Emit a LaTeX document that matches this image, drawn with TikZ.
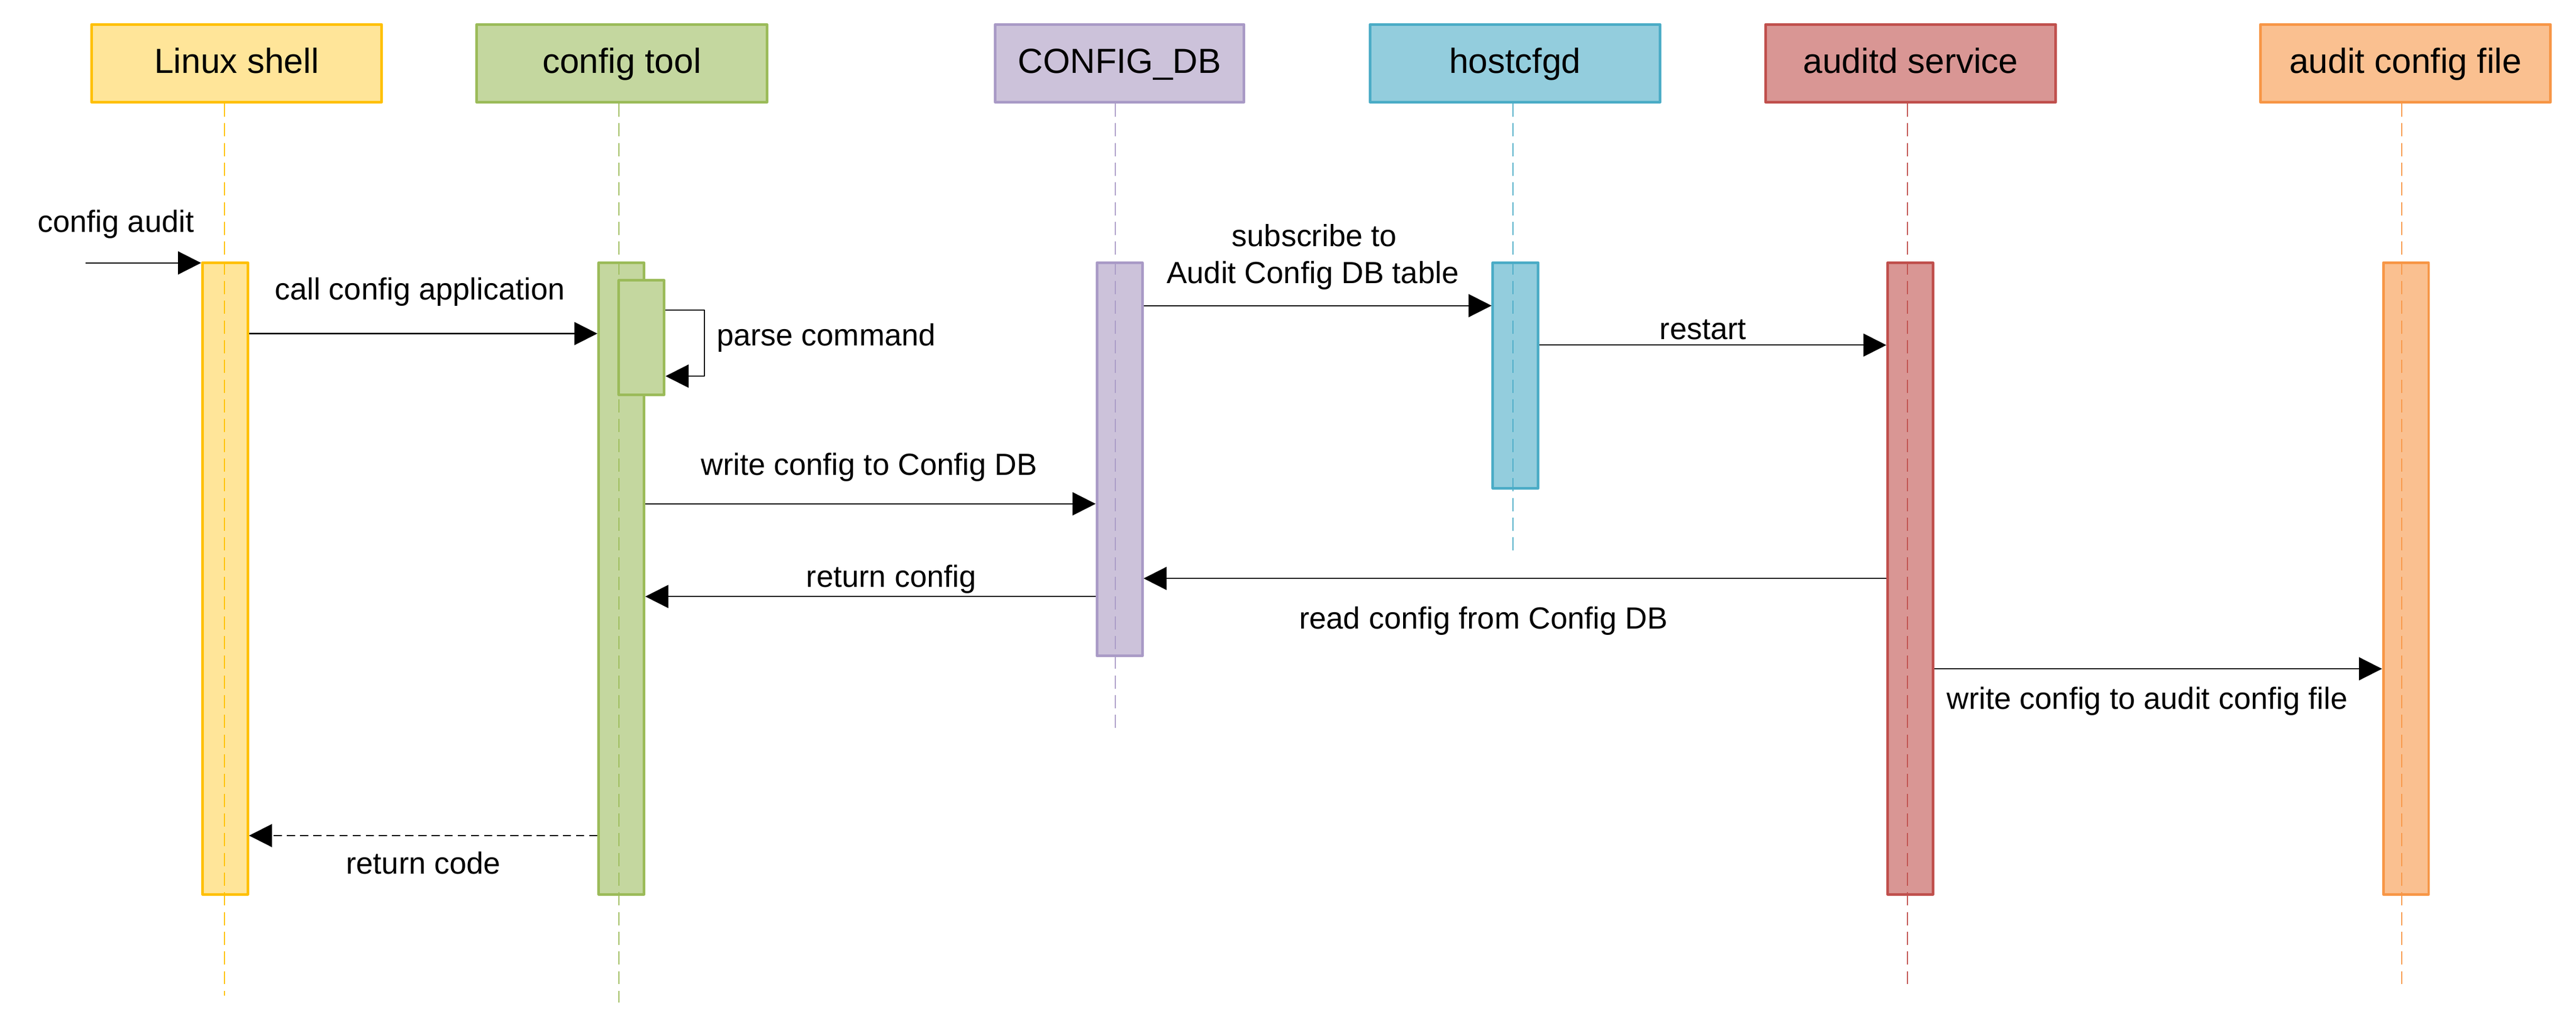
\documentclass[tikz,border=0pt]{standalone}
\usepackage{fontspec}
\setmainfont{Liberation Sans}
\usetikzlibrary{arrows.meta}
\definecolor{ylwF}{HTML}{FFE599}\definecolor{ylwS}{HTML}{FFC000}
\definecolor{grnF}{HTML}{C4D79F}\definecolor{grnS}{HTML}{9BBB59}
\definecolor{purF}{HTML}{CCC2DA}\definecolor{purS}{HTML}{A99AC6}
\definecolor{bluF}{HTML}{93CDDD}\definecolor{bluS}{HTML}{4BACC6}
\definecolor{redF}{HTML}{D99694}\definecolor{redS}{HTML}{C0504D}
\definecolor{orgF}{HTML}{FAC090}\definecolor{orgS}{HTML}{F79646}
\newcommand\hdrfont{\fontsize{21.2}{25}\selectfont}
\newcommand\lblfont{\fontsize{18.6}{22.5}\selectfont}
\begin{document}
\begin{tikzpicture}[x=1pt,y=-1pt,line join=round,
  hdr/.style={draw, line width=1.6pt, minimum width=176.6pt, minimum height=47.4pt, inner sep=0pt, font=\hdrfont, text height=15.2pt, text depth=3pt},
  act/.style={draw, line width=1.6pt, minimum width=27.6pt, inner sep=0pt},
  lifeline/.style={line width=0.6pt, dash pattern=on 8pt off 4pt},
  msg/.style={line width=0.7pt, -{Triangle[length=14pt,width=14pt]}},
  lbl/.style={font=\lblfont, anchor=base, inner sep=0pt},
]
\useasboundingbox (0,0) rectangle (1568,626.5);
% headers
\node[hdr, fill=ylwF, draw=ylwS] (lsH) at (144,38.5) {Linux shell};
\node[hdr, fill=grnF, draw=grnS] (ctH) at (378.5,38.5) {config tool};
\node[hdr, fill=purF, draw=purS, minimum width=151.4pt] (dbH) at (681.5,38.5) {CONFIG\_DB};
\node[hdr, fill=bluF, draw=bluS] (hcH) at (922.2,38.5) {hostcfgd};
\node[hdr, fill=redF, draw=redS] (adH) at (1163,38.5) {auditd service};
\node[hdr, fill=orgF, draw=orgS] (afH) at (1464.2,38.5) {audit config file};
% activations
\node[act, fill=ylwF, draw=ylwS, minimum height=384.4pt] (ls) at (137,352) {};
\node[act, fill=grnF, draw=grnS, minimum height=384.4pt] (ct) at (378.2,352) {};
\node[act, fill=purF, draw=purS, minimum height=239.4pt] (db) at (681.5,279.5) {};
\node[act, fill=bluF, draw=bluS, minimum height=137.4pt] (hc) at (922.5,228.5) {};
\node[act, fill=redF, draw=redS, minimum height=384.4pt] (ad) at (1162.8,352) {};
\node[act, fill=orgF, draw=orgS, minimum height=384.4pt] (af) at (1464.5,352) {};
% lifelines
\coordinate (lsE) at (136.6,606);
\coordinate (ctE) at (376.7,610);
\coordinate (dbE) at (679,445.6);
\coordinate (hcE) at (921,335);
\coordinate (adE) at (1161,601);
\coordinate (afE) at (1462,602);
\draw[lifeline, draw=ylwS] (lsH.south -| lsE) -- (lsE);
\draw[lifeline, draw=grnS] (ctH.south -| ctE) -- (ctE);
\draw[lifeline, draw=purS] (dbH.south -| dbE) -- (dbE);
\draw[lifeline, draw=bluS] (hcH.south -| hcE) -- (hcE);
\draw[lifeline, draw=redS] (adH.south -| adE) -- (adE);
\draw[lifeline, draw=orgS] (afH.south -| afE) -- (afE);
% nested activation
\node[act, fill=grnF, draw=grnS, minimum height=69.7pt] (ctn) at (390.5,205.4) {};
% messages
\coordinate (start) at (52,160);
\coordinate (loopc) at (428.8,228.9);
\draw[msg] (start) -- (ls.west |- start);
\draw[msg] (ls.east |- 0,203) -- (ct.west |- 0,203);
\draw[msg] (ctn.east |- 0,188.7) -| (loopc) -- (ctn.east |- loopc);
\draw[msg] (db.east |- 0,186) -- (hc.west |- 0,186);
\draw[msg] (hc.east |- 0,210) -- (ad.west |- 0,210);
\draw[msg] (ct.east |- 0,306.6) -- (db.west |- 0,306.6);
\draw[msg] (ad.west |- 0,352) -- (db.east |- 0,352);
\draw[msg] (db.west |- 0,363) -- (ct.east |- 0,363);
\draw[msg] (ad.east |- 0,407) -- (af.west |- 0,407);
\draw[msg, dash pattern=on 5pt off 3pt] (ct.west |- 0,508.5) -- (ls.east |- 0,508.5);
% labels
\node[lbl, anchor=base west] (tAudit) at (22.8,141.4) {config audit};
\node[lbl, anchor=base west] (tCall) at (167,182.5) {call config application};
\node[lbl, anchor=base west] (tParse) at (436,210.3) {parse command};
\node[lbl] (tSub1) at (800,150) {subscribe to};
\node[lbl] (tSub2) at (799,172.5) {Audit Config DB table};
\node[lbl] (tRestart) at (1036.6,206.6) {restart};
\node[lbl] (tWdb) at (529,289) {write config to Config DB};
\node[lbl] (tRet) at (542.5,357.3) {return config};
\node[lbl] (tRead) at (903,382.6) {read config from Config DB};
\node[lbl] (tWfile) at (1307,431.4) {write config to audit config file};
\node[lbl] (tCode) at (257.7,531.7) {return code};
\end{tikzpicture}
\end{document}
